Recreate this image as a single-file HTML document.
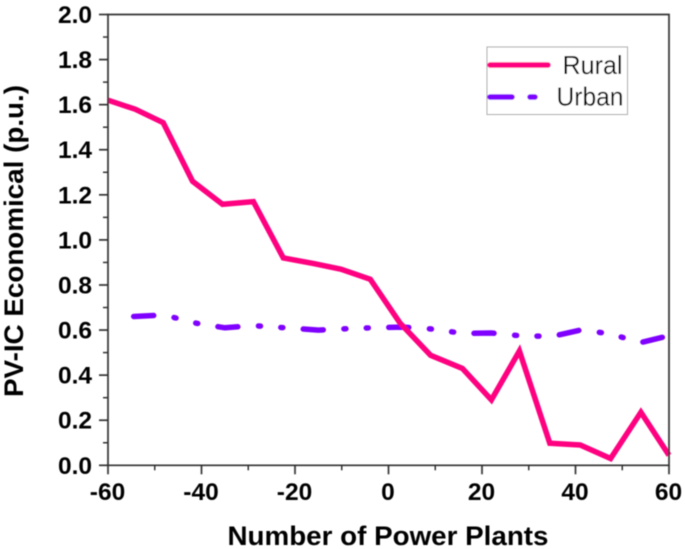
<!DOCTYPE html>
<html>
<head>
<meta charset="utf-8">
<style>
html,body{margin:0;padding:0;background:#fff;}
svg{display:block;font-family:"Liberation Sans",sans-serif;}
</style>
</head>
<body>
<svg id="chart" xmlns="http://www.w3.org/2000/svg" width="685" height="549" viewBox="0 0 685 549">
  <defs><filter id="soft" x="-5%" y="-5%" width="110%" height="110%"><feGaussianBlur stdDeviation="0.4"/></filter></defs>
  <rect width="685" height="549" fill="#fff"/>
  <g id="root" filter="url(#soft)">
    <g id="series"></g>
    <g id="axes"></g>
    <text x="388" y="545" text-anchor="middle" font-size="26.5" font-weight="700" fill="#000" textLength="321" lengthAdjust="spacingAndGlyphs">Number of Power Plants</text>
    <text transform="translate(23 241) rotate(-90)" text-anchor="middle" font-size="27" font-weight="700" fill="#000" textLength="312" lengthAdjust="spacingAndGlyphs">PV-IC Economical (p.u.)</text>
    <g>
      <rect x="487" y="47" width="140.5" height="67.5" fill="#fff" stroke="#aaa" stroke-width="1"/>
      <line x1="490" y1="65" x2="548" y2="65" stroke="#ff0080" stroke-width="5.5" stroke-linecap="round"/>
      <text x="622.5" y="74" text-anchor="end" font-size="26" fill="#000" textLength="60" lengthAdjust="spacingAndGlyphs">Rural</text>
      <line x1="490" y1="97" x2="512" y2="97" stroke="#7f00ff" stroke-width="5.5" stroke-linecap="round"/>
      <line x1="530" y1="97" x2="535" y2="97" stroke="#7f00ff" stroke-width="5.5" stroke-linecap="round"/>
      <text x="623.5" y="105.5" text-anchor="end" font-size="26" fill="#000" textLength="67" lengthAdjust="spacingAndGlyphs">Urban</text>
    </g>
  </g>
</svg>
<script>
const xTickValues = [-60, -40, -20, 0, 20, 40, 60];
const xMinorValues = [-50, -30, -10, 10, 30, 50];
const yTickValues = [0, 0.2, 0.4, 0.6, 0.8, 1.0, 1.2, 1.4, 1.6, 1.8, 2.0];
const yMinorValues = [0.1, 0.3, 0.5, 0.7, 0.9, 1.1, 1.3, 1.5, 1.7, 1.9];
const ruralX = [-60, -54.2, -48.2, -41.9, -35.5, -28.9, -22.5, -16, -10.2, -3.9, 2.5, 9, 15.8, 22, 28, 34.5, 41, 47.5, 54, 60];
const ruralY = [1.62, 1.58, 1.52, 1.26, 1.158, 1.17, 0.92, 0.895, 0.87, 0.825, 0.63, 0.488, 0.43, 0.29, 0.507, 0.098, 0.09, 0.03, 0.235, 0.045];
const urbanX = [-54.5, -48, -41, -35, -29, -22, -15, -10, -3.5, 3, 9, 16, 22, 28, 35, 41, 47, 54, 60];
const urbanY = [0.66, 0.667, 0.63, 0.61, 0.62, 0.61, 0.6, 0.605, 0.61, 0.613, 0.605, 0.585, 0.587, 0.575, 0.572, 0.6, 0.585, 0.545, 0.575];

const NS = 'http://www.w3.org/2000/svg';
const plotLeft = 108, plotRight = 669, plotTop = 14.5, plotBottom = 465.3;
function xScale(v) { return plotLeft + (v + 60) / 120 * (plotRight - plotLeft); }
function yScale(v) { return plotBottom - v / 2 * (plotBottom - plotTop); }
function make(tag, attrs, parent) {
  const el = document.createElementNS(NS, tag);
  for (const k in attrs) el.setAttribute(k, attrs[k]);
  parent.appendChild(el);
  return el;
}
function pathFrom(xs, ys) {
  return xs.map((x, i) => (i ? 'L' : 'M') + xScale(x).toFixed(1) + ' ' + yScale(ys[i]).toFixed(1)).join(' ');
}
const axes = document.getElementById('axes');
const series = document.getElementById('series');

const frame = make('path', {d: 'M' + plotLeft + ' ' + plotBottom + ' V' + plotTop + ' H' + plotRight + ' V' + plotBottom + ' H' + plotLeft, fill: 'none', stroke: '#333', 'stroke-width': 1.7}, axes);



xTickValues.forEach(v => {
  const t = make('line', {x1: xScale(v), x2: xScale(v), y1: plotBottom, y2: plotBottom + 9, stroke: '#333', 'stroke-width': 1.7}, axes);
  
  
  const l = make('text', {x: xScale(v) - 0.5, y: 500, 'text-anchor': 'middle', 'font-size': 24.5, 'font-weight': 700, fill: '#000'}, axes);
  
  
  l.textContent = String(v);
});
xMinorValues.forEach(v => {
  const t = make('line', {x1: xScale(v), x2: xScale(v), y1: plotBottom, y2: plotBottom + 5, stroke: '#333', 'stroke-width': 1.5}, axes);
  
  
});
yTickValues.forEach(v => {
  const t = make('line', {x1: plotLeft - 9, x2: plotLeft, y1: yScale(v), y2: yScale(v), stroke: '#333', 'stroke-width': 1.7}, axes);
  
  
  const l = make('text', {x: 92, y: yScale(v) + 8.5, 'text-anchor': 'end', 'font-size': 24.5, 'font-weight': 700, fill: '#000'}, axes);
  
  
  l.textContent = v.toFixed(1);
});
yMinorValues.forEach(v => {
  const t = make('line', {x1: plotLeft - 5, x2: plotLeft, y1: yScale(v), y2: yScale(v), stroke: '#333', 'stroke-width': 1.5}, axes);
  
  
});

const urbanLine = make('path', {d: pathFrom(urbanX, urbanY), fill: 'none', stroke: '#7f00ff', 'stroke-width': 5.5, 'stroke-linecap': 'round', 'stroke-linejoin': 'round', 'stroke-dasharray': '20 20.7 2 20.4 2 20.5'}, series);



const ruralLine = make('path', {d: pathFrom(ruralX, ruralY), fill: 'none', stroke: '#ff0080', 'stroke-width': 5.5, 'stroke-linejoin': 'miter'}, series);


</script>
</body>
</html>
